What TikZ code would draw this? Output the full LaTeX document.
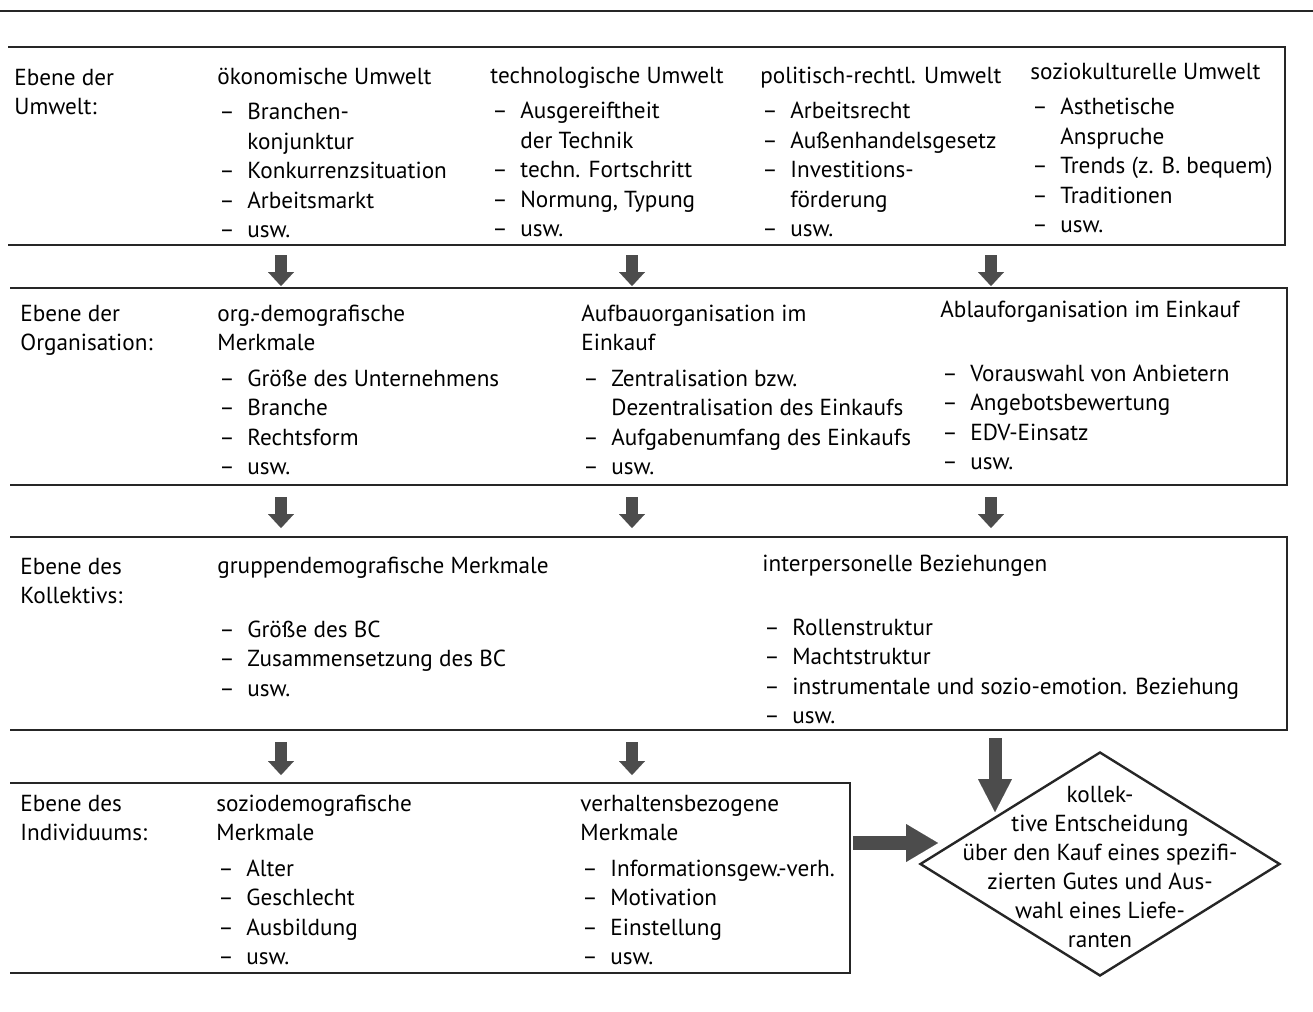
\documentclass[tikz,border=0pt]{standalone}
\usepackage{fontspec}
\setmainfont{PT Sans}
\usetikzlibrary{arrows.meta,shapes.geometric}

% list entry with a hanging dash, and its continuation line
\newcommand\dashitem[1]{\hspace*{1pt}\makebox[14pt][l]{--}#1}
\newcommand\dashcont[1]{\hspace*{15pt}#1}

\tikzset{
  rule/.style={draw=black!85, line width=1pt},
  col/.style={anchor=north west, inner sep=0pt, align=left,
              font=\fontsize{11.6}{14.75}\selectfont},
  fat/.style={draw=black!70, line width=6pt,
              -{Triangle[width=13pt,length=7pt,line width=0.01pt,fill=black!70]}},
  fatbig/.style={draw=black!70, line width=6.5pt,
              -{Triangle[width=17pt,length=16.5pt,line width=0.01pt,fill=black!70]}},
  fatside/.style={draw=black!70, line width=7pt,
              -{Triangle[width=19pt,length=16pt,line width=0.01pt,fill=black!70]}},
}

\begin{document}
\begin{tikzpicture}[x=0.5pt,y=-0.5pt]
\useasboundingbox (0,0) rectangle (1313,1012);

% rule over the whole figure
\coordinate (rl) at (0,11);
\coordinate (rr) at (1313,11);
\draw[rule] (rl) -- (rr);

% frames of the four levels (open on the left)
\coordinate (b1tl) at (8,47);   \coordinate (b1br) at (1285,245);
\coordinate (b2tl) at (10,288); \coordinate (b2br) at (1287,485);
\coordinate (b3tl) at (10,537); \coordinate (b3br) at (1287,730);
\coordinate (b4tl) at (10,783); \coordinate (b4br) at (850,973);
\foreach \b in {b1,b2,b3,b4}
  \draw[rule] (\b tl) -| (\b br) -- (\b br -| \b tl);

% level 1: environment
\node[col] (u0) at (14,68.4) {Ebene der\\Umwelt:};
\node[col] (u1) at (217,67.4) {ökonomische Umwelt\\[3pt]
  \dashitem{Branchen-}\\\dashcont{konjunktur}\\
  \dashitem{Konkurrenzsituation}\\\dashitem{Arbeitsmarkt}\\\dashitem{usw.}};
\node[col] (u2) at (490,66.4) {technologische Umwelt\\[3pt]
  \dashitem{Ausgereiftheit}\\\dashcont{der Technik}\\
  \dashitem{techn. Fortschritt}\\\dashitem{Normung, Typung}\\\dashitem{usw.}};
\node[col] (u3) at (760,66.4) {politisch-rechtl. Umwelt\\[3pt]
  \dashitem{Arbeitsrecht}\\\dashitem{Außenhandelsgesetz}\\
  \dashitem{Investitions-}\\\dashcont{förderung}\\\dashitem{usw.}};
\node[col] (u4) at (1030,62.4) {soziokulturelle Umwelt\\[3pt]
  \dashitem{Asthetische}\\\dashcont{Anspruche}\\
  \dashitem{Trends (z. B. bequem)}\\\dashitem{Traditionen}\\\dashitem{usw.}};

% level 2: organisation
\node[col] (o0) at (20,304.4) {Ebene der\\Organisation:};
\node[col] (o1) at (217,304.4) {org.-demografische\\Merkmale\\[3pt]
  \dashitem{Größe des Unternehmens}\\\dashitem{Branche}\\
  \dashitem{Rechtsform}\\\dashitem{usw.}};
\node[col] (o2) at (581,304.4) {Aufbauorganisation im\\Einkauf\\[3pt]
  \dashitem{Zentralisation bzw.}\\\dashcont{Dezentralisation des Einkaufs}\\
  \dashitem{Aufgabenumfang des Einkaufs}\\\dashitem{usw.}};
\node[col] (o3) at (940,300.4) {Ablauforganisation im Einkauf\\[17.25pt]
  \dashitem{Vorauswahl von Anbietern}\\\dashitem{Angebotsbewertung}\\
  \dashitem{EDV-Einsatz}\\\dashitem{usw.}};

% level 3: buying center
\node[col] (k0) at (20,557.4) {Ebene des\\Kollektivs:};
\node[col] (k1) at (217,556.4) {gruppendemografische Merkmale\\[17.25pt]
  \dashitem{Größe des BC}\\\dashitem{Zusammensetzung des BC}\\\dashitem{usw.}};
\node[col] (k2) at (762,554.4) {interpersonelle Beziehungen\\[17.25pt]
  \dashitem{Rollenstruktur}\\\dashitem{Machtstruktur}\\
  \dashitem{instrumentale und sozio-emotion. Beziehung}\\\dashitem{usw.}};

% level 4: individuals
\node[col] (i0) at (20,794.4) {Ebene des\\Individuums:};
\node[col] (i1) at (216,794.4) {soziodemografische\\Merkmale\\[3pt]
  \dashitem{Alter}\\\dashitem{Geschlecht}\\\dashitem{Ausbildung}\\\dashitem{usw.}};
\node[col] (i2) at (580,794.4) {verhaltensbezogene\\Merkmale\\[3pt]
  \dashitem{Informationsgew.-verh.}\\\dashitem{Motivation}\\
  \dashitem{Einstellung}\\\dashitem{usw.}};

% decision
\node[diamond, draw=black!85, line width=1.2pt, minimum width=180pt,
      minimum height=112pt, inner sep=0pt] (dec) at (1100,864) {};
\node[align=center, inner sep=0pt, font=\fontsize{11.6}{14.5}\selectfont]
  (dectext) at (1100,867) {kollek-\\tive Entscheidung\\über den Kauf eines spezifi-\\
  zierten Gutes und Aus-\\wahl eines Liefe-\\ranten};

% arrows between the levels
\foreach \x [count=\i] in {281,632,991} {
  \coordinate (p\i s) at (\x,255); \coordinate (p\i e) at (\x,286);
  \draw[fat] (p\i s) -- (p\i e);
  \coordinate (q\i s) at (\x,497); \coordinate (q\i e) at (\x,528);
  \draw[fat] (q\i s) -- (q\i e);
}
\foreach \x [count=\i] in {281,632} {
  \coordinate (r\i s) at (\x,742); \coordinate (r\i e) at (\x,775);
  \draw[fat] (r\i s) -- (r\i e);
}
\coordinate (kd s) at (995,738); \coordinate (kd e) at (995,812);
\draw[fatbig] (kd s) -- (kd e);
\coordinate (id s) at (853,843); \coordinate (id e) at (938,843);
\draw[fatside] (id s) -- (id e);
\end{tikzpicture}
\end{document}
